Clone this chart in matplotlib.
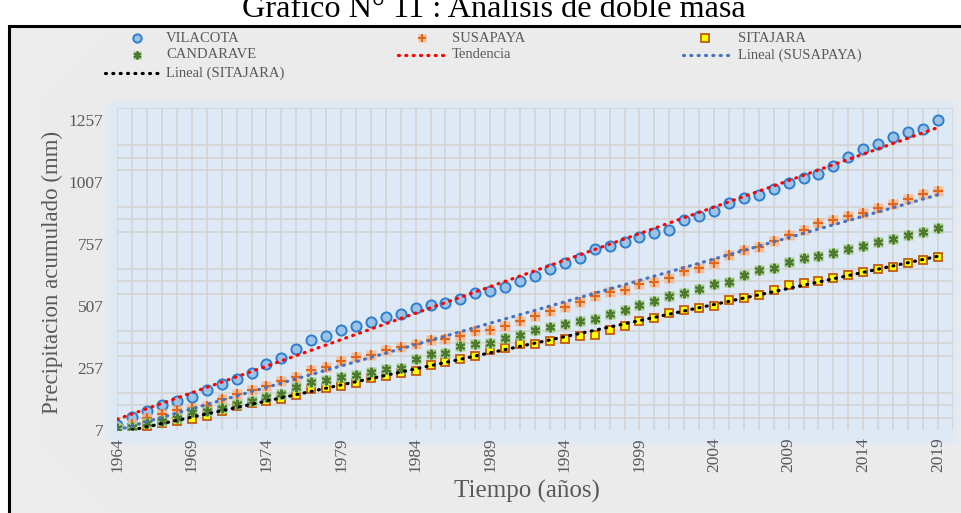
import numpy as np
import matplotlib
matplotlib.use("Agg")
import matplotlib.pyplot as plt
from matplotlib.patches import Rectangle

# ---------------- data ----------------
years = list(range(1964, 2020))
vilacota = [27, 60, 85, 106, 125, 140, 168, 191, 213, 238,
            275, 299, 335, 369, 386, 409, 428, 444, 465, 476,
            499, 512, 521, 536, 559, 570, 583, 610, 630, 657,
            681, 701, 736, 751, 764, 788, 802, 816, 854, 871,
            891, 923, 942, 956, 978, 1003, 1023, 1041, 1072, 1108,
            1142, 1162, 1189, 1209, 1222, 1257]
susapaya = [12, 30, 54, 72, 87, 94, 105, 131, 151, 170,
            184, 205, 221, 248, 261, 287, 300, 308, 328, 342,
            355, 369, 373, 386, 405, 412, 425, 447, 467, 489,
            503, 523, 550, 563, 574, 597, 606, 621, 647, 663,
            681, 714, 733, 746, 771, 795, 814, 842, 855, 870,
            883, 903, 921, 941, 958, 972]
candarave = [14, 20, 34, 44, 54, 81, 85, 94, 111, 123,
             141, 153, 181, 201, 208, 221, 228, 241, 254, 258,
             294, 312, 316, 345, 355, 360, 378, 389, 409, 421,
             433, 447, 456, 476, 493, 513, 527, 546, 559, 577,
             597, 606, 634, 653, 662, 685, 701, 709, 721, 736,
             751, 765, 780, 794, 807, 822]
sitajara = [7, 14, 25, 35, 44, 52, 62, 82, 102, 118,
            125, 133, 148, 171, 177, 186, 196, 218, 225, 236,
            245, 268, 281, 292, 306, 329, 339, 354, 354, 366,
            373, 386, 392, 409, 427, 446, 461, 480, 490, 501,
            508, 532, 541, 551, 574, 593, 601, 610, 622, 634,
            643, 657, 667, 681, 694, 704]
x_ticks = list(range(1964, 2020, 5))
y_ticks = [7, 257, 507, 757, 1007, 1257]

# ---------------- figure ----------------
W, H = 962, 513
fig = plt.figure(figsize=(W / 100, H / 100), dpi=100)
serif = ["Liberation Serif", "DejaVu Serif"]
plt.rcParams["font.family"] = serif
GRAY_TXT = "#595959"

# background image: white, gray chart box, fuzzy light-blue plot area
xx = np.arange(W)[None, :] + 0.5
yy = np.arange(H)[:, None] + 0.5
bg = np.ones((H, W, 3))
gray = np.array([236, 236, 236]) / 255
blue = np.array([221, 233, 246]) / 255
box = np.broadcast_to((xx >= 9) & (yy >= 25), (H, W))
bg[box] = gray
s = 4.0
fx = 0.5 * (np.tanh((xx - 108) / s) - np.tanh((xx - 957) / s))
fy = 0.5 * (np.tanh((yy - 102) / s) - np.tanh((yy - 444) / s))
a = (fx * fy)[..., None] * box[..., None]
bg = bg * (1 - a) + blue * a
fig.figimage(bg, 0, 0, origin="upper", zorder=-10)

# chart box border (left and top visible)
fig.add_artist(Rectangle((8.5 / W, -0.1), 1.2, 1 - 25.5 / H + 0.1,
                         transform=fig.transFigure, fill=False,
                         edgecolor="black", lw=2.2, zorder=1))

ax = fig.add_axes([117.3 / W, 1 - 430 / H, 835.4 / W, 322 / H])
ax.set_zorder(2)
ax.patch.set_visible(False)
for sp in ax.spines.values():
    sp.set_visible(False)
ax.set_xlim(1964, 2020)
ax.set_ylim(7, 1307)

# grid
gcol = "#d3d3d3"
for yr in range(1964, 2021):
    ax.axvline(yr, color=gcol, lw=1.2, zorder=1)
for v in range(57, 1308, 50):
    if (v - 7) % 250 in (50, 100, 150):
        ax.axhline(v, color=gcol, lw=1.2, zorder=1)

ax.set_xticks(x_ticks)
ax.set_xticklabels([str(t) for t in x_ticks], rotation=90)
ax.set_yticks(y_ticks)
ax.set_yticklabels([str(t) for t in y_ticks])
ax.tick_params(axis="both", length=0, labelsize=12.5, labelcolor=GRAY_TXT)
ax.tick_params(axis="y", pad=10)
ax.tick_params(axis="x", pad=5)

# series styles
ms = 7.3
def draw_vil(axx, x, y, size=ms):
    axx.plot(x, y, ls="none", marker="o", ms=size, mfc="#9cc3e6",
             mec="#2e7fd0", mew=1.4, zorder=3)

def draw_sus(axx, x, y, size=ms):
    axx.plot(x, y, ls="none", marker="s", ms=size * 0.92, mfc="#f6b98f",
             mec="none", alpha=0.85, zorder=3)
    axx.plot(x, y, ls="none", marker="+", ms=size * 0.92, mec="#e2661a",
             mew=1.5, zorder=3)

def draw_sit(axx, x, y, size=ms * 0.85):
    axx.plot(x, y, ls="none", marker="s", ms=size, mfc="#ffff00",
             mec="#c55a11", mew=1.3, zorder=3)

def draw_can(axx, x, y, size=ms):
    axx.plot(x, y, ls="none", marker="s", ms=size * 0.92, mfc="#a9d08e",
             mec="none", zorder=3)
    axx.plot(x, y, ls="none", marker=(6, 2, 0), ms=size * 0.95, mec="#4e7a2e",
             mew=1.4, zorder=3)

draw_vil(ax, years, vilacota)
draw_sus(ax, years, susapaya)
draw_sit(ax, years, sitajara)
draw_can(ax, years, candarave)

# trend lines (linear fits)
yrs = np.array(years, dtype=float)
dot = dict(lw=2.3, dash_capstyle="round", zorder=4)
trend_styles = [(vilacota, "#ff0000"), (susapaya, "#4472c4"), (sitajara, "#000000")]
for vals, col in trend_styles:
    p = np.polyfit(yrs, np.array(vals, dtype=float), 1)
    ax.plot(yrs, np.polyval(p, yrs), color=col, ls=(0, (0.3, 2.0)), **dot)

# labels
fig.text(494 / W, 1 - 17 / H, "Grafico N° 11 : Analisis de doble masa",
         ha="center", va="baseline", fontsize=23.2, color="black")
fig.text(52 / W, 1 - 272 / H, "Precipitacion acumulado (mm)", rotation=90,
         ha="center", va="center", fontsize=16.5, color=GRAY_TXT)
fig.text(527 / W, 1 - 491 / H, "Tiempo (años)", ha="center", va="center",
         fontsize=18, color=GRAY_TXT)

# manual legend in a full-figure overlay axes
lax = fig.add_axes([0, 0, 1, 1])
lax.set_zorder(3)
lax.set_xlim(0, W)
lax.set_ylim(H, 0)
lax.axis("off")
lfs = 10.5
lms = 6.0
rows = [38, 55, 73]
draw_vil(lax, [137], [rows[0]], lms)
lax.text(166, rows[0], "VILACOTA", va="center", fontsize=lfs, color=GRAY_TXT)
draw_sus(lax, [422], [rows[0]], lms)
lax.text(452, rows[0], "SUSAPAYA", va="center", fontsize=lfs, color=GRAY_TXT)
draw_sit(lax, [705], [rows[0]], lms * 0.9)
lax.text(738, rows[0], "SITAJARA", va="center", fontsize=lfs, color=GRAY_TXT)
draw_can(lax, [137], [rows[1]], lms)
lax.text(166, rows[1], "CANDARAVE", va="center", fontsize=lfs, color=GRAY_TXT)
lax.plot([398, 448], [rows[1], rows[1]], color="#ff0000", ls=(0, (0.3, 2.0)), **dot)
lax.text(452, rows[1], "Tendencia", va="center", fontsize=lfs, color=GRAY_TXT)
lax.plot([683, 734], [rows[1], rows[1]], color="#4472c4", ls=(0, (0.3, 2.0)), **dot)
lax.text(738, rows[1], "Lineal (SUSAPAYA)", va="center", fontsize=lfs, color=GRAY_TXT)
lax.plot([105, 160], [rows[2], rows[2]], color="#000000", ls=(0, (0.3, 2.0)), **dot)
lax.text(166, rows[2], "Lineal (SITAJARA)", va="center", fontsize=lfs, color=GRAY_TXT)

fig.savefig("out.png", dpi=100)
